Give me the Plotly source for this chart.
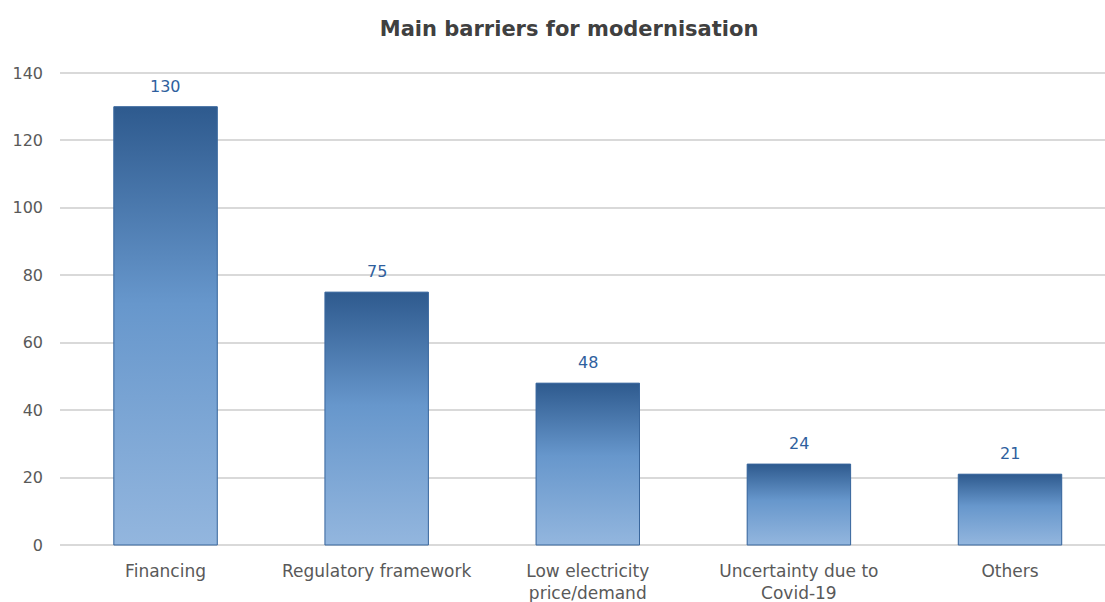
import plotly.graph_objects as go

categories = ["Financing", "Regulatory framework", "Low electricity<br>price/demand",
              "Uncertainty due to<br>Covid-19", "Others"]
values = [130, 75, 48, 24, 21]
y_ticks = [0, 20, 40, 60, 80, 100, 120, 140]

FONT = "DejaVu Sans"
DARK = "#2e5a8e"
LIGHT = "#93b6de"
BAR_W = 0.49

xs = list(range(len(categories)))

fig = go.Figure()
fig.add_trace(go.Bar(
    x=xs, y=values, width=BAR_W,
    marker=dict(color="#5b8cc4", line=dict(width=0)),
    hoverinfo="skip", showlegend=False,
))
for i, v in zip(xs, values):
    x0, x1 = i - BAR_W / 2, i + BAR_W / 2
    fig.add_trace(go.Scatter(
        x=[x0, x1, x1, x0, x0], y=[0, 0, v, v, 0],
        mode="lines", fill="toself", line=dict(width=1, color="#3a679d"),
        fillgradient=dict(type="vertical",
                          colorscale=[[0, LIGHT], [0.55, "#6797cc"], [1, DARK]]),
        hoverinfo="skip", showlegend=False,
    ))
for i, v in zip(xs, values):
    fig.add_annotation(x=i, y=v, text=str(v), showarrow=False, yanchor="bottom",
                       yshift=9, font=dict(family=FONT, size=16, color="#2f5f9e"))

fig.update_layout(
    width=1105, height=602,
    margin=dict(l=60, r=0, t=72, b=56),
    paper_bgcolor="white", plot_bgcolor="white",
    title=dict(text="<b>Main barriers for modernisation</b>", x=0.515, xanchor="center",
               y=0.953, yanchor="middle",
               font=dict(family=FONT, size=21, color="#404040")),
    xaxis=dict(range=[-0.5, 4.45], tickvals=xs, ticktext=categories,
               showgrid=False, zeroline=False, showline=False, ticks="",
               ticklabelstandoff=13, automargin=False,
               tickfont=dict(family=FONT, size=17, color="#595959")),
    yaxis=dict(range=[-0.3, 140.3], tickvals=y_ticks, showgrid=True, gridcolor="#d9d9d9",
               gridwidth=2, zeroline=False, showline=False, ticks="", ticklabelstandoff=16,
               automargin=False,
               tickfont=dict(family=FONT, size=16, color="#595959")),
    bargap=0.5,
)
fig.write_html("out.html")
